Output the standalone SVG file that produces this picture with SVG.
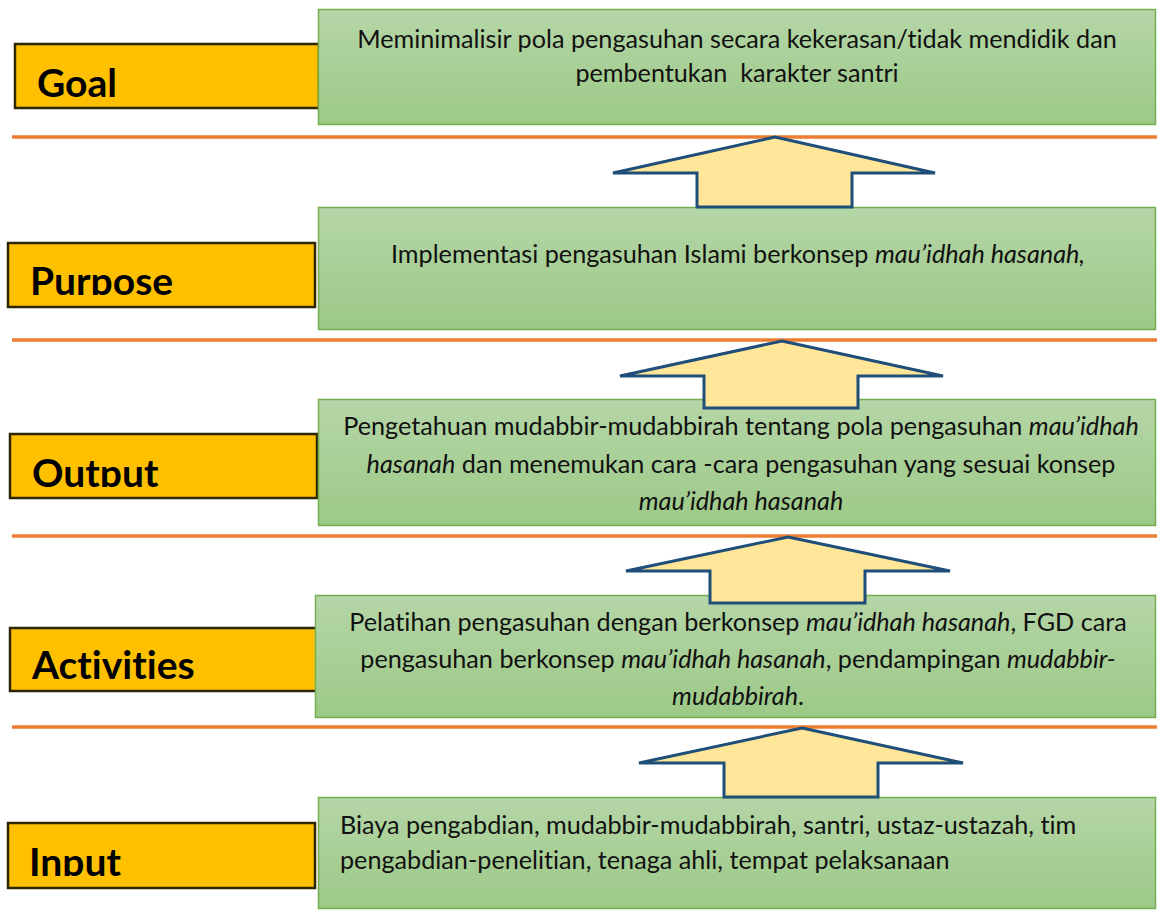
<svg xmlns="http://www.w3.org/2000/svg" width="1157" height="912" viewBox="0 0 1157 912">
<style>
text{font-variant-ligatures:none}
.lbl{fill:#ffc000;stroke:#2e2600;stroke-width:2.5}
.lt{font-family:Lato,"Liberation Sans",sans-serif;font-weight:bold;font-size:39px;fill:#000}
.gb{fill:url(#gg);stroke:#74ae4f;stroke-width:1.5}
.t{font-family:Lato,"Liberation Sans",sans-serif;font-size:25.2px;fill:#111}
.c{text-anchor:middle}
.sep{stroke:#ed7d31;stroke-width:3.5}
.arr{fill:#ffe699;stroke:#1f4e79;stroke-width:3;stroke-linejoin:miter}
</style>
<defs>
<linearGradient id="gg" x1="0" y1="0" x2="0" y2="1">
<stop offset="0" stop-color="#b5d6a7"/>
<stop offset="1" stop-color="#9cc987"/>
</linearGradient>
<clipPath id="cPurpose"><rect x="0" y="240" width="320" height="55"/></clipPath>
<clipPath id="cOutput"><rect x="0" y="430" width="320" height="57"/></clipPath>
<clipPath id="cInput"><rect x="0" y="820" width="320" height="56"/></clipPath>
</defs>
<rect width="1157" height="912" fill="#fff"/>
<g id="separators">
<line class="sep" x1="12" y1="137" x2="1157" y2="137"/>
<line class="sep" x1="12" y1="340" x2="1157" y2="340"/>
<line class="sep" x1="12" y1="536" x2="1157" y2="536"/>
<line class="sep" x1="12" y1="727" x2="1157" y2="727"/>
</g>
<g id="label-goal">
<rect class="lbl" x="15" y="44" width="304" height="64"/>
<text class="lt" x="37" y="97">Goal</text>
</g>
<g id="label-purpose">
<rect class="lbl" x="8" y="243" width="307" height="64"/>
<text class="lt" x="30" y="295" clip-path="url(#cPurpose)">Purpose</text>
</g>
<g id="label-output">
<rect class="lbl" x="10" y="434" width="307" height="64"/>
<text class="lt" x="32" y="487" clip-path="url(#cOutput)">Output</text>
</g>
<g id="label-activities">
<rect class="lbl" x="10" y="628" width="307" height="63"/>
<text class="lt" x="32" y="679">Activities</text>
</g>
<g id="label-input">
<rect class="lbl" x="8" y="823" width="307" height="65"/>
<text class="lt" x="29" y="876" clip-path="url(#cInput)">Input</text>
</g>
<g id="box-goal">
<rect class="gb" x="318.5" y="9.5" width="837" height="115"/>
<text class="t c" x="737" y="48">Meminimalisir pola pengasuhan secara kekerasan/tidak mendidik dan</text>
<text class="t c" x="737" y="82" xml:space="preserve">pembentukan  karakter santri</text>
</g>
<g id="box-purpose">
<rect class="gb" x="318.5" y="207.5" width="837" height="122"/>
<text class="t c" x="738" y="263">Implementasi pengasuhan Islami berkonsep <tspan font-style="italic">mau’idhah hasanah,</tspan></text>
</g>
<g id="box-output">
<rect class="gb" x="318.5" y="399.5" width="837" height="126"/>
<text class="t c" x="741" y="435">Pengetahuan mudabbir-mudabbirah tentang pola pengasuhan <tspan font-style="italic">mau’idhah</tspan></text>
<text class="t c" x="741" y="473"><tspan font-style="italic">hasanah</tspan> dan menemukan cara -cara pengasuhan yang sesuai konsep</text>
<text class="t c" x="741" y="510" font-style="italic">mau’idhah hasanah</text>
</g>
<g id="box-activities">
<rect class="gb" x="315.5" y="595.5" width="840" height="122"/>
<text class="t c" x="738" y="631">Pelatihan pengasuhan dengan berkonsep <tspan font-style="italic">mau’idhah hasanah</tspan>, FGD cara</text>
<text class="t c" x="738" y="668">pengasuhan berkonsep <tspan font-style="italic">mau’idhah hasanah</tspan>, pendampingan <tspan font-style="italic">mudabbir-</tspan></text>
<text class="t c" x="738" y="705"><tspan font-style="italic">mudabbirah</tspan>.</text>
</g>
<g id="box-input">
<rect class="gb" x="318.5" y="797.5" width="837" height="111"/>
<text class="t" x="340" y="834">Biaya pengabdian, mudabbir-mudabbirah, santri, ustaz-ustazah, tim</text>
<text class="t" x="340" y="869">pengabdian-penelitian, tenaga ahli, tempat pelaksanaan</text>
</g>
<g id="connectors">
<path class="arr" d="M775,137 L935,173 L852,173 L852,207 L697,207 L697,173 L613,173 Z"/>
<path class="arr" d="M782,341 L943,376 L858,376 L858,408 L704,408 L704,376 L620,376 Z"/>
<path class="arr" d="M788,537 L950,571 L865,571 L865,603 L710,603 L710,571 L626,571 Z"/>
<path class="arr" d="M802,728 L963,763 L878,763 L878,797 L724,797 L724,763 L639,763 Z"/>
</g>
</svg>
